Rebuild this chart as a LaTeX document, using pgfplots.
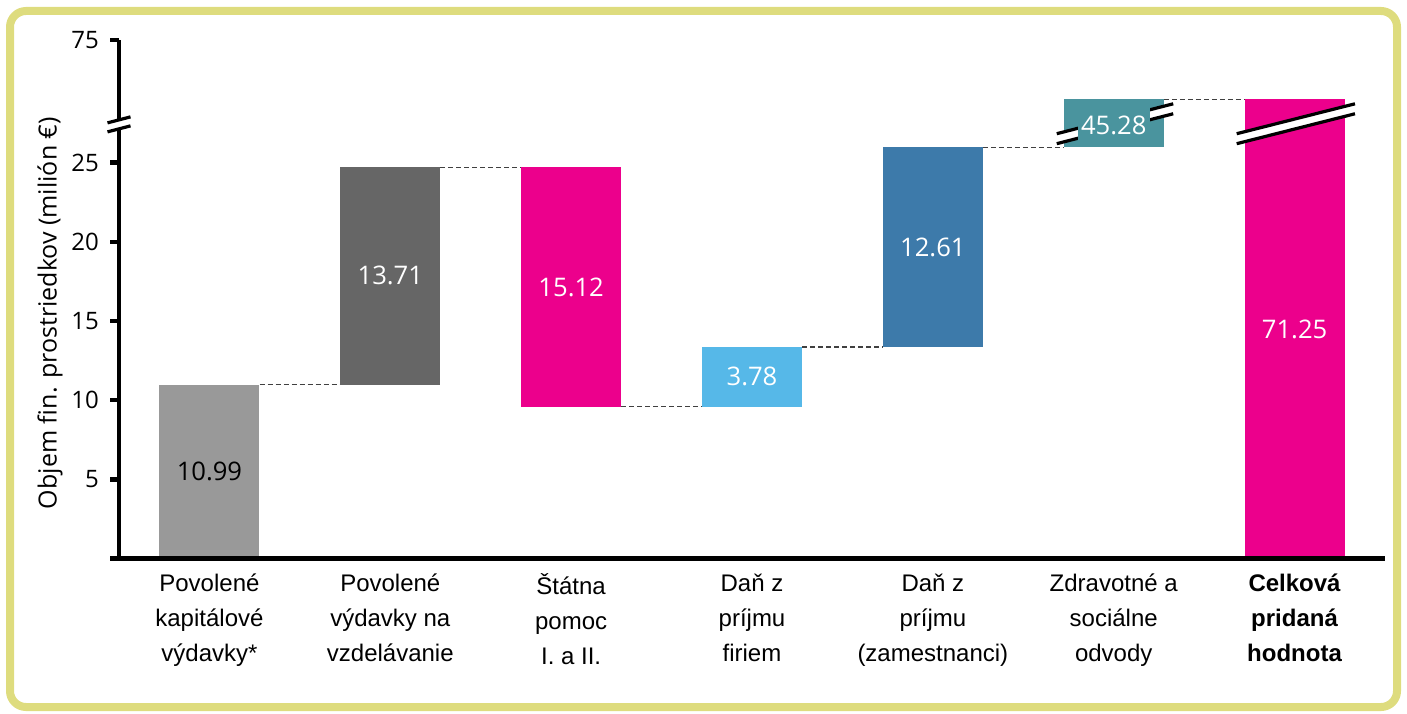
\documentclass[border=0pt]{standalone}
\usepackage{fontspec}
\setmainfont{Liberation Sans}
\newfontfamily\numfont{Open Sans}
\usepackage{pgfplots}
\pgfplotsset{compat=1.18}
\usepackage{pgfplotstable}
\usetikzlibrary{calc}

\definecolor{cgrayA}{RGB}{153,153,153}
\definecolor{cgrayB}{RGB}{102,102,102}
\definecolor{cmag}{RGB}{236,0,140}
\definecolor{clblue}{RGB}{86,184,232}
\definecolor{csblue}{RGB}{61,122,170}
\definecolor{cteal}{RGB}{74,148,158}
\definecolor{cframe}{RGB}{222,220,126}

% Waterfall: base and height of each bar (display scale; values above the
% axis break are shifted down by 42.25, so 71.25 is drawn at 29.00)
\pgfplotstableread{
x base h
1 0     10.99
2 10.99 13.71
3 9.58  15.12
4 9.58  3.78
5 13.36 12.61
6 25.97 3.03
7 0     29.00
}\bars

\pgfplotstableread{
x mid lab
2 17.85 13.71
3 17.14 15.12
4 11.47 3.78
5 19.67 12.61
7 14.50 71.25
}\labwhite

\pgfplotstableread{
x mid lab
1 5.50 10.99
}\labblack

\pgfplotstableread{
x mid lab
6 27.35 45.28
}\labteal

\pgfplotsset{
  frameaxis/.style={
    at={(59.5pt,77.25pt)}, anchor=south west,
    scale only axis, width=633pt, height=259.25pt,
    xmin=0.5, xmax=7.5, ymin=0, ymax=32.75, clip=false},
  brk/.style={sharp plot, black, line width=1.6pt},
  vlab/.style={sharp plot, draw=none, nodes near coords, point meta=explicit symbolic,
    nodes near coords align={center}},
}

\begin{document}
\begin{tikzpicture}
\useasboundingbox (0,0) rectangle (703.5pt,356.5pt);
\draw[cframe, line width=4pt, rounded corners=8pt] (5pt,3pt) rectangle (698.5pt,351pt);
\begin{axis}[
  frameaxis,
  axis x line*=bottom, axis y line*=left,
  axis line style={line width=2.2pt, black},
  ybar stacked, bar width=50pt,
  xtick={1,2,3,4,5,6,7},
  xticklabels={{Povolené\\kapitálové\\výdavky*},
               {Povolené\\výdavky na\\vzdelávanie},
               {Štátna\\pomoc\\I. a II.},
               {Daň z\\príjmu\\firiem},
               {Daň z\\príjmu\\(zamestnanci)},
               {Zdravotné a\\sociálne\\odvody},
               {\textbf{Celková}\\\textbf{pridaná}\\\textbf{hodnota}}},
  xtick style={draw=none},
  xticklabel style={font=\fontsize{12}{17.5}\selectfont, align=center,
                    anchor=north, inner sep=0pt, yshift=-3pt},
  ytick={0,5,10,15,20,25,32.75},
  yticklabels={,5,10,15,20,25,75},
  ytick style={line width=2.2pt, black},
  yticklabel style={font=\numfont\fontsize{12}{14}\selectfont, xshift=-2pt},
  tick align=outside, major tick length=4.5pt,
  ylabel={Objem fin. prostriedkov (milión €)},
  every axis y label/.style={at={($(rel axis cs:0,0.4735)+(-34.5pt,0)$)},
                             rotate=90, anchor=center,
                             font=\numfont\fontsize{12.5}{15}\selectfont},
  axis on top,
]
\addplot[draw=none, fill=none] table[x=x, y=base] {\bars};
\addplot[fill=cgrayA, draw=none] table[x=x, y expr={\coordindex==0 ? \thisrow{h} : 0}] {\bars};
\addplot[fill=cgrayB, draw=none] table[x=x, y expr={\coordindex==1 ? \thisrow{h} : 0}] {\bars};
\addplot[fill=cmag,   draw=none] table[x=x, y expr={\coordindex==2 ? \thisrow{h} : 0}] {\bars};
\addplot[fill=clblue, draw=none] table[x=x, y expr={\coordindex==3 ? \thisrow{h} : 0}] {\bars};
\addplot[fill=csblue, draw=none] table[x=x, y expr={\coordindex==4 ? \thisrow{h} : 0}] {\bars};
\addplot[fill=cteal,  draw=none] table[x=x, y expr={\coordindex==5 ? \thisrow{h} : 0}] {\bars};
\addplot[fill=cmag,   draw=none] table[x=x, y expr={\coordindex==6 ? \thisrow{h} : 0}] {\bars};

% connectors
\pgfplotsset{conn/.style={sharp plot, stack plots=false, black!75, line width=0.6pt, dash pattern=on 2.5pt off 1.5pt}}
\addplot[conn] coordinates {(1.277,10.99) (1.723,10.99)};
\addplot[conn] coordinates {(2.277,24.70) (2.723,24.70)};
\addplot[conn] coordinates {(3.277,9.58) (3.723,9.58)};
\addplot[conn] coordinates {(4.277,13.36) (4.723,13.36)};
\addplot[conn] coordinates {(5.277,25.97) (5.723,25.97)};
\addplot[conn] coordinates {(6.277,29.00) (6.723,29.00)};

\coordinate (yb) at (axis cs:0.5,27.42);
\end{axis}

% overlay: break bands across the two tall bars and the value labels
\begin{axis}[frameaxis, hide axis]
\addplot[fill=white, draw=none] coordinates {(5.685,26.20) (6.329,28.09) (6.329,28.72) (5.685,26.83)} -- cycle;
\addplot[brk] coordinates {(5.685,26.20) (6.329,28.09)};
\addplot[brk] coordinates {(5.685,26.83) (6.329,28.72)};
\addplot[fill=white, draw=none] coordinates {(6.680,26.20) (7.334,28.09) (7.334,28.72) (6.680,26.83)} -- cycle;
\addplot[brk] coordinates {(6.680,26.20) (7.334,28.09)};
\addplot[brk] coordinates {(6.680,26.83) (7.334,28.72)};

\addplot[vlab, every node near coord/.append style={anchor=center, text=white,
    font=\numfont\fontsize{12.8}{15}\selectfont}]
  table[x=x, y=mid, meta=lab] {\labwhite};
\addplot[vlab, every node near coord/.append style={anchor=center, text=black,
    font=\numfont\fontsize{12.8}{15}\selectfont}]
  table[x=x, y=mid, meta=lab] {\labblack};
\addplot[vlab, every node near coord/.append style={anchor=center, text=white, fill=cteal,
    inner xsep=1.7pt, inner ysep=4pt, font=\numfont\fontsize{12.8}{15}\selectfont}]
  table[x=x, y=mid, meta=lab] {\labteal};
\end{axis}

% axis break marks on the y axis
\begin{scope}[shift={(yb)}]
\fill[white] (-3pt,-3.03pt) -- (3pt,-1.47pt) -- (3pt,3.03pt) -- (-3pt,1.47pt) -- cycle;
\draw[black, line width=1.6pt] (-5.75pt,-3.75pt) -- (5.75pt,-0.75pt);
\draw[black, line width=1.6pt] (-5.75pt,0.75pt) -- (5.75pt,3.75pt);
\end{scope}
\end{tikzpicture}
\end{document}
